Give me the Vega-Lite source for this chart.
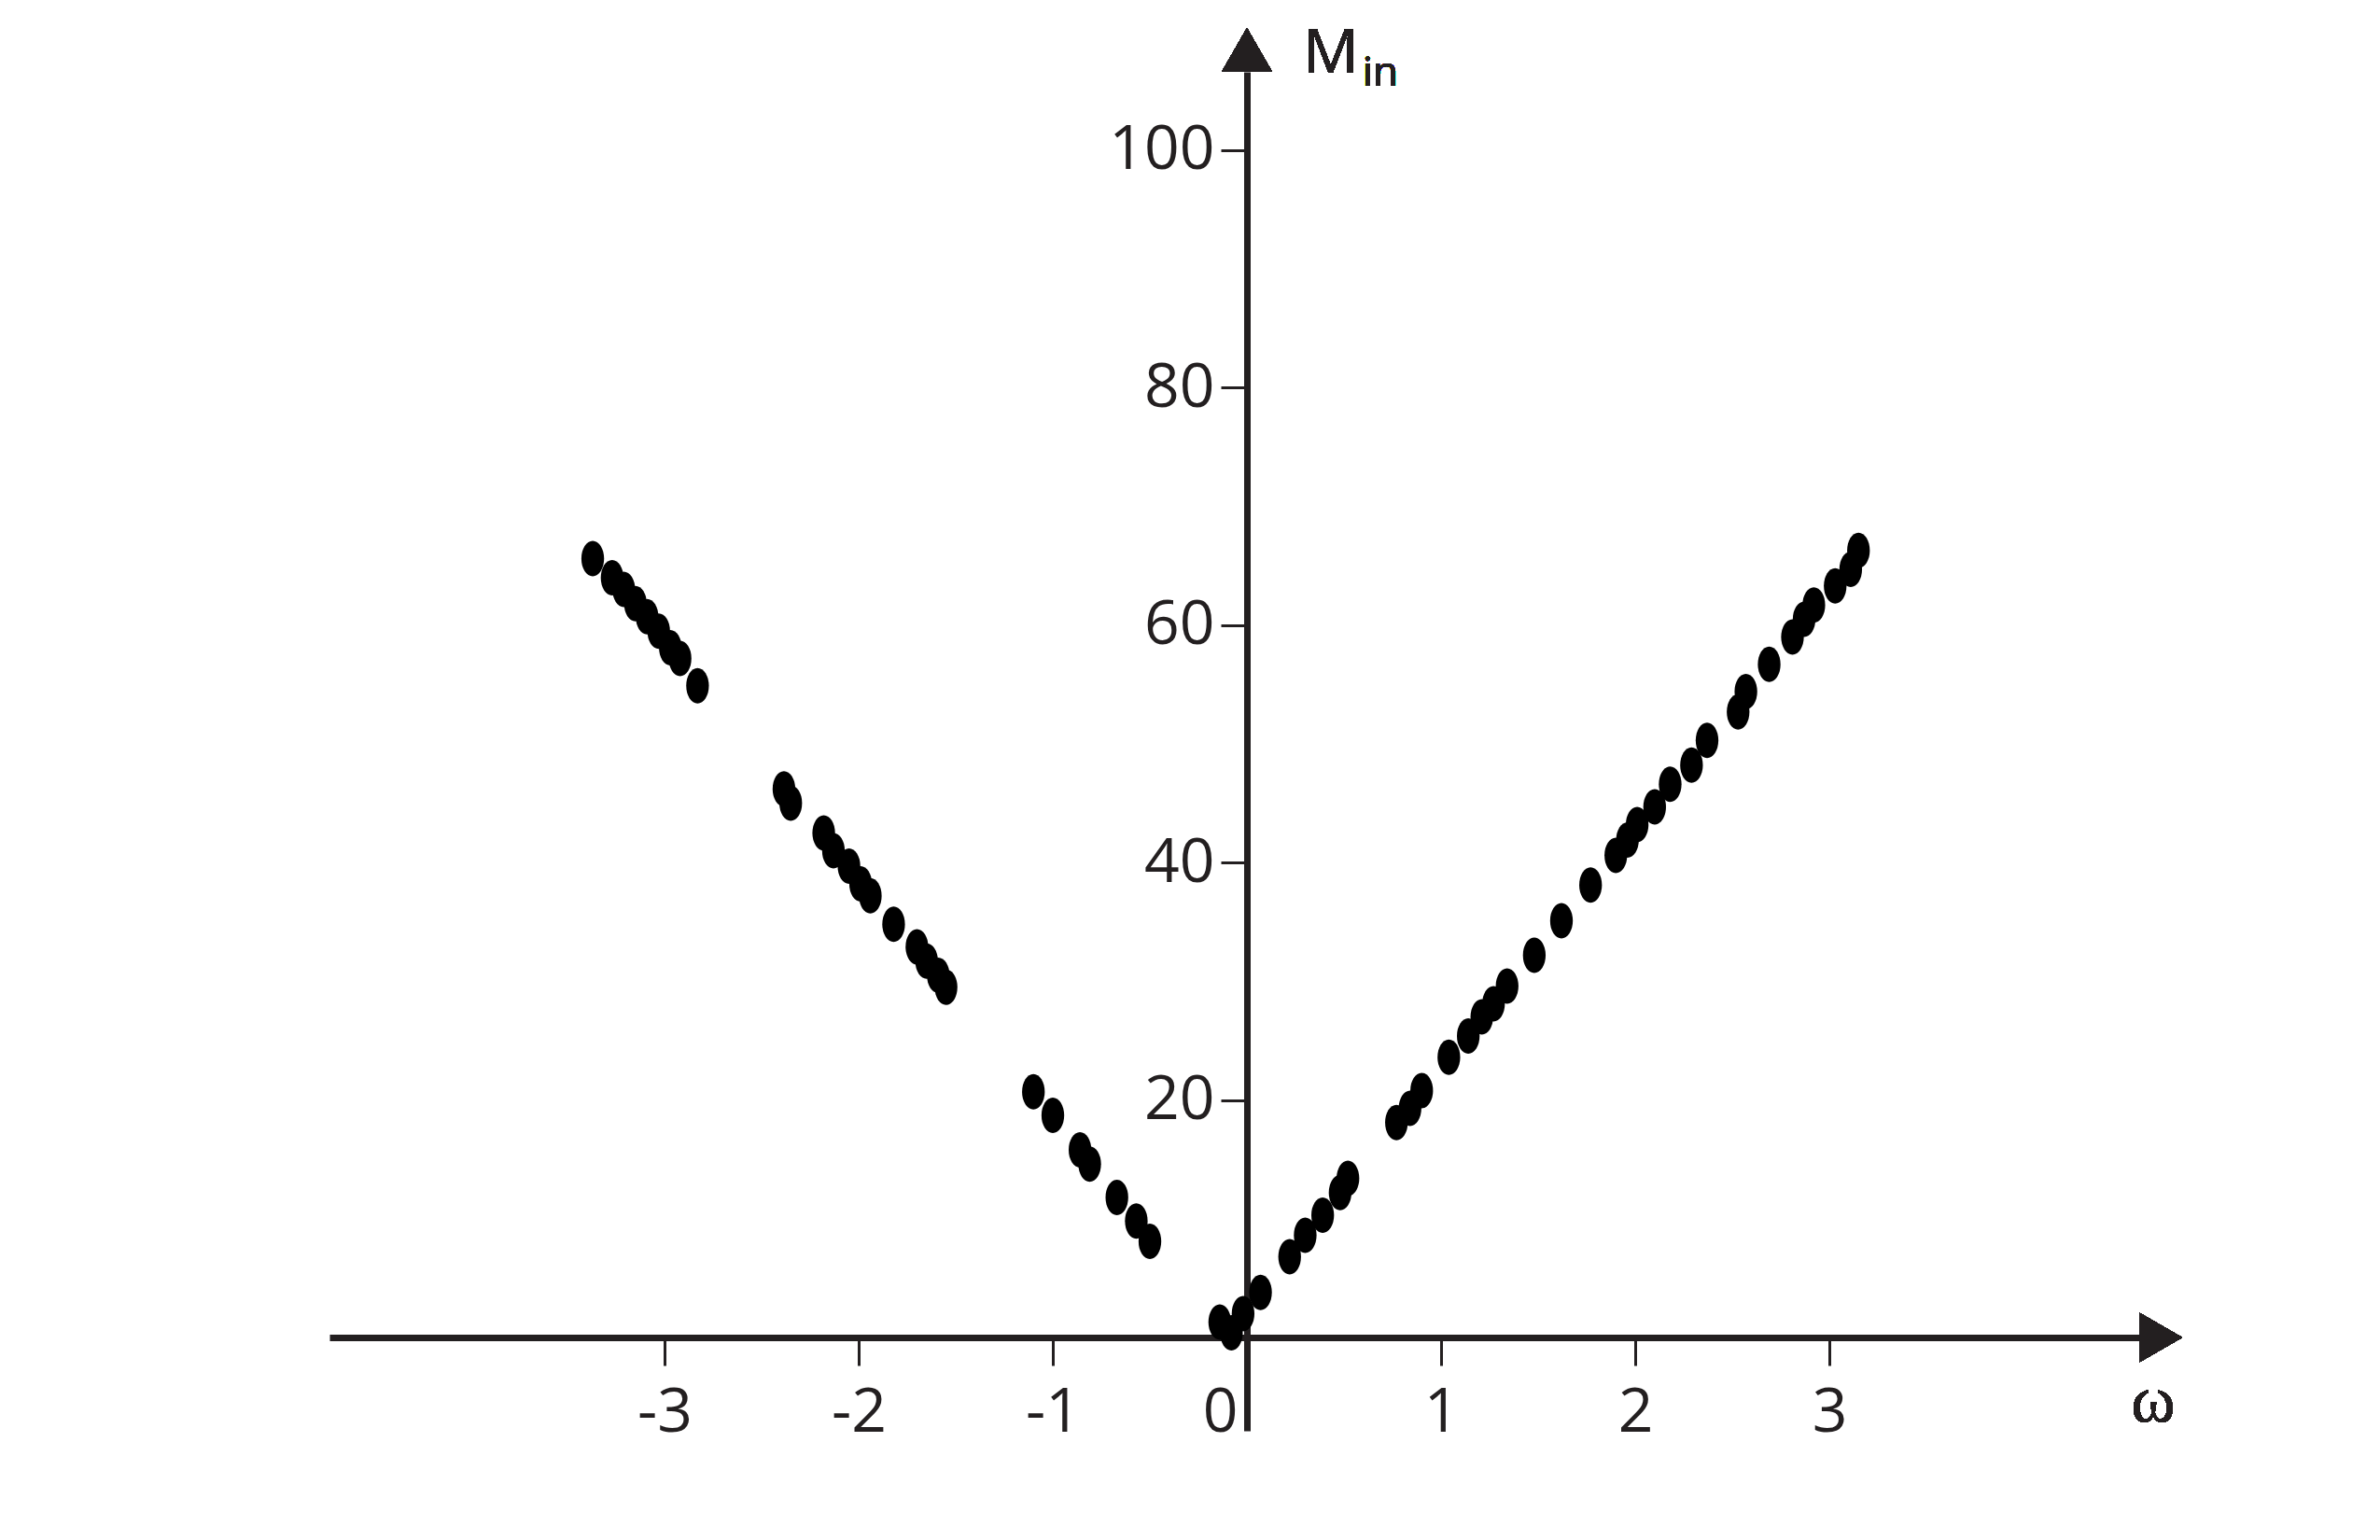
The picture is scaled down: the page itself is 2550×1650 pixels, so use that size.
{
  "$schema": "https://vega.github.io/schema/vega-lite/v6.json",
  "width": 1939,
  "height": 1456,
  "autosize": {"type": "none"},
  "padding": {"left": 353, "top": 77, "right": 258, "bottom": 117},
  "background": "white",
  "config": {
    "view": {"stroke": null},
    "axis": {
      "grid": false,
      "domainColor": "#231f20",
      "domainWidth": 7,
      "tickColor": "#231f20",
      "tickWidth": 3,
      "labelColor": "#231f20",
      "labelFont": "Open Sans",
      "labelFontSize": 66,
      "labelOverlap": false,
      "labelBound": false,
      "labelFlush": false,
      "labelExpr": "'' + datum.value"
    }
  },
  "data": {
    "values": [
      {"w": -3.37, "M": 65.6}, {"w": -3.27, "M": 64.0}, {"w": -3.21, "M": 63.0}, {"w": -3.15, "M": 61.8},
      {"w": -3.09, "M": 60.7}, {"w": -3.03, "M": 59.5}, {"w": -2.97, "M": 58.1}, {"w": -2.92, "M": 57.2},
      {"w": -2.83, "M": 54.9},
      {"w": -2.385, "M": 46.2}, {"w": -2.35, "M": 45.0}, {"w": -2.18, "M": 42.5}, {"w": -2.13, "M": 41.0},
      {"w": -2.05, "M": 39.7}, {"w": -1.99, "M": 38.2}, {"w": -1.94, "M": 37.2}, {"w": -1.82, "M": 34.8},
      {"w": -1.70, "M": 32.9}, {"w": -1.65, "M": 31.7}, {"w": -1.59, "M": 30.5}, {"w": -1.55, "M": 29.5},
      {"w": -1.10, "M": 20.7}, {"w": -1.00, "M": 18.7}, {"w": -0.86, "M": 15.8}, {"w": -0.81, "M": 14.6},
      {"w": -0.67, "M": 11.8}, {"w": -0.57, "M": 9.8}, {"w": -0.50, "M": 8.1},
      {"w": -0.14, "M": 1.3}, {"w": -0.08, "M": 0.4}, {"w": -0.02, "M": 2.0}, {"w": 0.07, "M": 3.8},
      {"w": 0.22, "M": 6.8}, {"w": 0.30, "M": 8.6}, {"w": 0.39, "M": 10.3}, {"w": 0.48, "M": 12.2},
      {"w": 0.52, "M": 13.4},
      {"w": 0.77, "M": 18.1}, {"w": 0.84, "M": 19.3}, {"w": 0.90, "M": 20.8}, {"w": 1.04, "M": 23.6},
      {"w": 1.14, "M": 25.4}, {"w": 1.21, "M": 27.0}, {"w": 1.27, "M": 28.1}, {"w": 1.34, "M": 29.6},
      {"w": 1.48, "M": 32.2}, {"w": 1.62, "M": 35.1}, {"w": 1.77, "M": 38.1},
      {"w": 1.90, "M": 40.6}, {"w": 1.96, "M": 41.9}, {"w": 2.01, "M": 43.2}, {"w": 2.10, "M": 44.7},
      {"w": 2.18, "M": 46.6}, {"w": 2.29, "M": 48.2}, {"w": 2.37, "M": 50.3}, {"w": 2.53, "M": 52.7},
      {"w": 2.57, "M": 54.4}, {"w": 2.69, "M": 56.7}, {"w": 2.81, "M": 59.0}, {"w": 2.87, "M": 60.5},
      {"w": 2.92, "M": 61.7}, {"w": 3.03, "M": 63.3}, {"w": 3.11, "M": 64.7}, {"w": 3.15, "M": 66.3}
    ]
  },
  "layer": [
    {
      "mark": {
        "type": "point",
        "filled": true,
        "opacity": 1,
        "color": "#000000",
        "size": 1444,
        "shape": "M-0.64,0A0.64,1 0 1,0 0.64,0A0.64,1 0 1,0 -0.64,0Z"
      },
      "encoding": {
        "x": {
          "field": "w",
          "type": "quantitative",
          "scale": {"domain": [-4.726, 4.596], "nice": false, "zero": false},
          "axis": {
            "title": null,
            "orient": "bottom",
            "offset": -100,
            "values": [-3, -2, -1, 0, 1, 2, 3],
            "tickSize": 30,
            "labelPadding": 70,
            "labelBaseline": "alphabetic",
            "labelOffset": {"condition": {"test": "datum.value === 0", "value": -29}, "value": 0}
          }
        },
        "y": {
          "field": "M",
          "type": "quantitative",
          "scale": {"domain": [-7.862, 106.6], "nice": false, "zero": false},
          "axis": {
            "title": null,
            "orient": "left",
            "offset": -983,
            "values": [20, 40, 60, 80, 100],
            "tickSize": 28,
            "labelPadding": 7
          }
        }
      }
    },
    {
      "mark": {"type": "point", "filled": true, "opacity": 1, "color": "#231f20", "size": 2116, "shape": "M-1,-1.15L1,0L-1,1.15Z"},
      "encoding": {
        "x": {"datum": 4.707, "type": "quantitative"},
        "y": {"datum": 0, "type": "quantitative"}
      }
    },
    {
      "mark": {"type": "point", "filled": true, "opacity": 1, "color": "#231f20", "size": 2209, "shape": "M-1.15,1L0,-1L1.15,1Z"},
      "encoding": {
        "x": {"datum": 0, "type": "quantitative"},
        "y": {"datum": 108.45, "type": "quantitative"}
      }
    },
    {
      "mark": {"type": "text", "text": "M", "font": "Open Sans", "fontSize": 66, "color": "#231f20", "align": "left", "baseline": "alphabetic"},
      "encoding": {
        "x": {"datum": 0.29, "type": "quantitative"},
        "y": {"datum": 106.5, "type": "quantitative"}
      }
    },
    {
      "mark": {"type": "text", "text": "in", "font": "Open Sans", "fontSize": 44, "color": "#231f20", "align": "left", "baseline": "alphabetic"},
      "encoding": {
        "x": {"datum": 0.595, "type": "quantitative"},
        "y": {"datum": 105.42, "type": "quantitative"}
      }
    },
    {
      "mark": {"type": "text", "text": "ω", "font": "Liberation Serif", "fontSize": 72, "color": "#231f20", "align": "center", "baseline": "alphabetic"},
      "encoding": {
        "x": {"datum": 4.668, "type": "quantitative"},
        "y": {"datum": -7.075, "type": "quantitative"}
      }
    }
  ]
}
